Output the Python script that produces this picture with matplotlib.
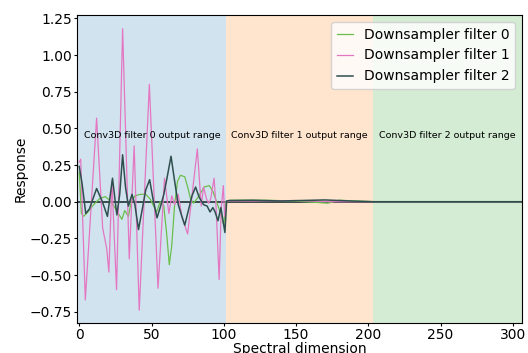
import matplotlib
matplotlib.use("Agg")
import matplotlib.pyplot as plt
import numpy as np

# spectral band regions (one per Conv3D filter)
region_edges = [-1.5, 101.5, 203.5, 306.5]
region_colors = ["tab:blue", "tab:orange", "tab:green"]
region_labels = ["Conv3D filter 0 output range",
                 "Conv3D filter 1 output range",
                 "Conv3D filter 2 output range"]

# Downsampler filter 0 (green)
x_f0 = [0, 1.5, 3, 6, 10, 14, 18, 21, 24, 27, 29.5, 31.5, 34, 36, 38.5, 42, 46,
        49, 51, 53.5, 56, 58.5, 60.5, 62.3, 64, 66, 68, 70, 73, 75, 77, 79, 81.5,
        84, 86.5, 90, 92.5, 95, 97.5, 100, 101.5, 104, 130, 150, 172, 180, 204, 306]
y_f0 = [0.20, -0.08, -0.10, -0.07, -0.02, 0.02, 0.035, 0.01, -0.03, -0.08, -0.12,
        -0.06, -0.10, 0.0, 0.04, 0.05, 0.05, 0.02, -0.02, -0.07, 0.0, -0.03, -0.22,
        -0.43, -0.30, -0.02, 0.14, 0.18, 0.17, 0.10, 0.02, -0.01, 0.02, 0.06, 0.10,
        0.11, 0.07, 0.0, -0.07, -0.16, 0.0, 0.01, 0.01, 0.004, -0.01, 0.01, 0.0, 0.0]

# Downsampler filter 1 (pink)
x_f1 = [0, 1, 4.2, 12, 16.2, 19, 20.5, 22.6, 25.8, 30, 34.6, 38, 41.5, 48.5, 54.5,
        59, 62, 64, 66, 68.5, 71, 75, 81.7, 84.4, 86, 88, 89.5, 91, 93.3, 94.7,
        96.8, 98.2, 99.7, 100.6, 102, 104, 120, 150, 175, 204, 306]
y_f1 = [0.27, 0.29, -0.67, 0.57, -0.18, -0.32, -0.48, 0.14, -0.60, 1.18, -0.39,
        0.38, -0.74, 0.80, -0.59, 0.16, -0.08, 0.04, -0.02, 0.05, -0.10, -0.22,
        0.36, -0.03, 0.10, 0.02, -0.01, 0.02, 0.16, -0.04, -0.53, -0.05, 0.11,
        -0.10, 0.0, 0.005, 0.005, 0.008, 0.0, 0.0, 0.0]

# Downsampler filter 2 (dark)
x_f2 = [0, 2, 4.5, 7, 12, 16, 19.5, 23, 26, 28, 30, 32, 34, 36.5, 38.5, 41, 44,
        46, 48.7, 51, 53.8, 56, 58.5, 60.5, 63.5, 66, 68.5, 71, 73, 75.5, 78,
        80.5, 83, 86, 88.5, 90.5, 92.5, 94, 96, 98, 100.8, 102, 104, 120, 140,
        170, 190, 204, 306]
y_f2 = [0.24, 0.12, -0.08, -0.05, 0.09, 0.0, -0.10, 0.16, -0.09, 0.05, 0.32,
        0.10, -0.03, 0.05, -0.02, -0.19, -0.03, 0.08, 0.15, 0.02, -0.11, -0.04,
        0.05, 0.15, 0.31, 0.14, -0.02, -0.10, -0.16, -0.06, 0.04, 0.10, 0.03,
        -0.02, -0.03, -0.07, -0.04, -0.07, -0.13, -0.04, -0.21, 0.005, 0.008,
        0.01, 0.005, 0.012, 0.004, 0.0, 0.0]

fig = plt.figure(figsize=(5.28, 3.53), dpi=100)
ax = fig.add_axes([0.146, 0.085, 0.843, 0.8725])

for i in range(3):
    ax.axvspan(region_edges[i], region_edges[i + 1], color=region_colors[i],
               alpha=0.2, lw=0)
    ax.text((region_edges[i] + region_edges[i + 1]) / 2 + (0.5 if i == 0 else 0), 0.45,
            region_labels[i], ha="center", va="center", fontsize=6.8)

ax.axhline(0, color="#2f3f3f", lw=1.3)
ax.plot(x_f0, y_f0, color="#6abf4b", lw=0.9, label="Downsampler filter 0")
ax.plot(x_f1, y_f1, color="#e377c2", lw=0.9, label="Downsampler filter 1")
ax.plot(x_f2, y_f2, color="#2f4f4f", lw=1.1, label="Downsampler filter 2")

ax.set_xlim(-1.5, 306.5)
ax.set_ylim(-0.827, 1.273)
ax.set_xticks(np.arange(0, 301, 50))
ax.set_yticks(np.arange(-0.75, 1.26, 0.25))
ax.tick_params(labelsize=10, length=2.5, pad=1)
ax.set_xlabel("Spectral dimension", fontsize=10, labelpad=0)
ax.set_ylabel("Response", fontsize=10, labelpad=2)
ax.legend(loc="upper right", fontsize=10, handlelength=1.15)

fig.savefig("out.png", dpi=100)
